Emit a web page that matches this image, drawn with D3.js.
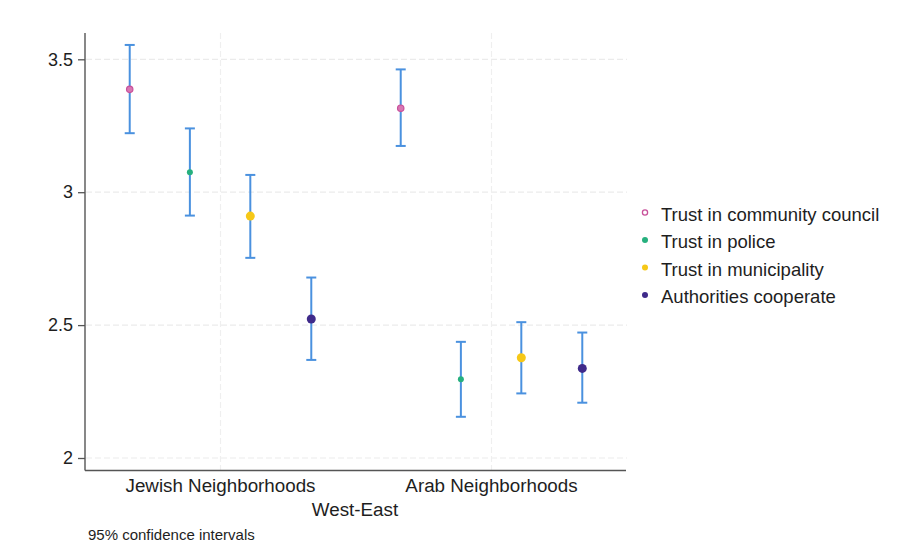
<!DOCTYPE html>
<html><head><meta charset="utf-8">
<script src="https://cdn.jsdelivr.net/npm/d3@7"></script>
<style>body{margin:0;background:#fff;} text{font-family:"Liberation Sans",Arial,sans-serif;}</style>
</head><body>
<svg id="c" width="915" height="557"></svg>
<script>
const groups = ["Jewish Neighborhoods", "Arab Neighborhoods"];
const series = ["Trust in community council", "Trust in police", "Trust in municipality", "Authorities cooperate"];
const colors = ["#c8509a", "#26b07e", "#f6c817", "#3f2a8a"];
const means = [[3.387, 3.075, 2.910, 2.523], [3.316, 2.296, 2.377, 2.337]];
const lower = [[3.222, 2.912, 2.753, 2.369], [3.174, 2.155, 2.243, 2.208]];
const upper = [[3.554, 3.240, 3.065, 2.679], [3.462, 2.437, 2.511, 2.472]];
const yTicks = [2, 2.5, 3, 3.5];
const offsets = [-0.335, -0.113, 0.11, 0.335];

(function () {
const svg = d3.select("#c");
const x = d3.scaleLinear().domain([0.5, 2.5]).range([85, 627]);
const y = d3.scaleLinear().domain([2, 3.5]).range([458, 59.3]);
const plotTop = 33, plotBottom = 470.5;

// gridlines
svg.append("g").selectAll("line").data(yTicks).join("line")
  .attr("x1", 86).attr("x2", 627).attr("y1", d => y(d)).attr("y2", d => y(d))
  .attr("stroke", "#ebebeb").attr("stroke-width", 1.2).attr("stroke-dasharray", "6,3");
svg.append("g").selectAll("line").data([1, 2]).join("line")
  .attr("x1", d => x(d)).attr("x2", d => x(d)).attr("y1", plotTop).attr("y2", plotBottom)
  .attr("stroke", "#efefef").attr("stroke-width", 1.2).attr("stroke-dasharray", "6,3");

// y axis
const yAxis = d3.axisLeft(y).tickValues(yTicks).tickFormat(d3.format("")).tickSize(7).tickPadding(5);
const ga = svg.append("g").attr("transform", "translate(85,0)").call(yAxis);
ga.select(".domain").remove();
ga.selectAll(".tick line").attr("stroke", "#555").attr("stroke-width", 1.3);
ga.selectAll(".tick text").attr("font-size", 18).attr("fill", "#1e1e1e").attr("font-family", "Liberation Sans, Arial, sans-serif");
svg.append("line").attr("x1", 85).attr("x2", 85).attr("y1", plotTop).attr("y2", plotBottom)
  .attr("stroke", "#555").attr("stroke-width", 1.4);

// x axis
svg.append("line").attr("x1", 85).attr("x2", 626).attr("y1", plotBottom).attr("y2", plotBottom)
  .attr("stroke", "#555").attr("stroke-width", 1.4);
svg.append("g").selectAll("text").data(groups).join("text")
  .attr("x", (d, i) => x(i + 1)).attr("y", 491.5).attr("text-anchor", "middle")
  .attr("font-size", 18.8).attr("fill", "#1e1e1e").text(d => d);
svg.append("text").attr("x", 355).attr("y", 516).attr("text-anchor", "middle")
  .attr("font-size", 18.8).attr("fill", "#1e1e1e").text("West-East");
svg.append("text").attr("x", 88).attr("y", 539.5).attr("font-size", 15).attr("fill", "#1e1e1e")
  .text("95% confidence intervals");

// data
const pts = [];
groups.forEach((g, gi) => series.forEach((s, si) => pts.push({gi, si, m: means[gi][si], lo: lower[gi][si], hi: upper[gi][si]})));
const eb = "#4a91df";
const gp = svg.append("g");
pts.forEach(p => {
  const cx = x(p.gi + 1 + offsets[p.si]);
  gp.append("line").attr("x1", cx).attr("x2", cx).attr("y1", y(p.lo)).attr("y2", y(p.hi)).attr("stroke", eb).attr("stroke-width", 2);
  [p.lo, p.hi].forEach(v => gp.append("line").attr("x1", cx - 5).attr("x2", cx + 5).attr("y1", y(v)).attr("y2", y(v)).attr("stroke", eb).attr("stroke-width", 2));
});
const rad = [3.2, 3, 4.5, 4.5];
pts.forEach(p => {
  const cx = x(p.gi + 1 + offsets[p.si]);
  gp.append("circle").attr("cx", cx).attr("cy", y(p.m)).attr("r", rad[p.si])
    .attr("fill", p.si === 0 ? "#d877b2" : colors[p.si])
    .attr("stroke", colors[p.si]).attr("stroke-width", p.si === 0 ? 1.2 : 0);
});

// legend
const lg = svg.append("g");
series.forEach((s, i) => {
  const yy = 212.5 + i * 27.5;
  lg.append("circle").attr("cx", 645).attr("cy", yy).attr("r", i === 0 ? 2.6 : 3)
    .attr("fill", i === 0 ? "#fff" : colors[i]).attr("stroke", colors[i]).attr("stroke-width", i === 0 ? 1.3 : 0);
  lg.append("text").attr("x", 661).attr("y", yy + 8).attr("font-size", 18.5).attr("fill", "#1e1e1e").text(s);
});
})();
</script>
</body></html>
